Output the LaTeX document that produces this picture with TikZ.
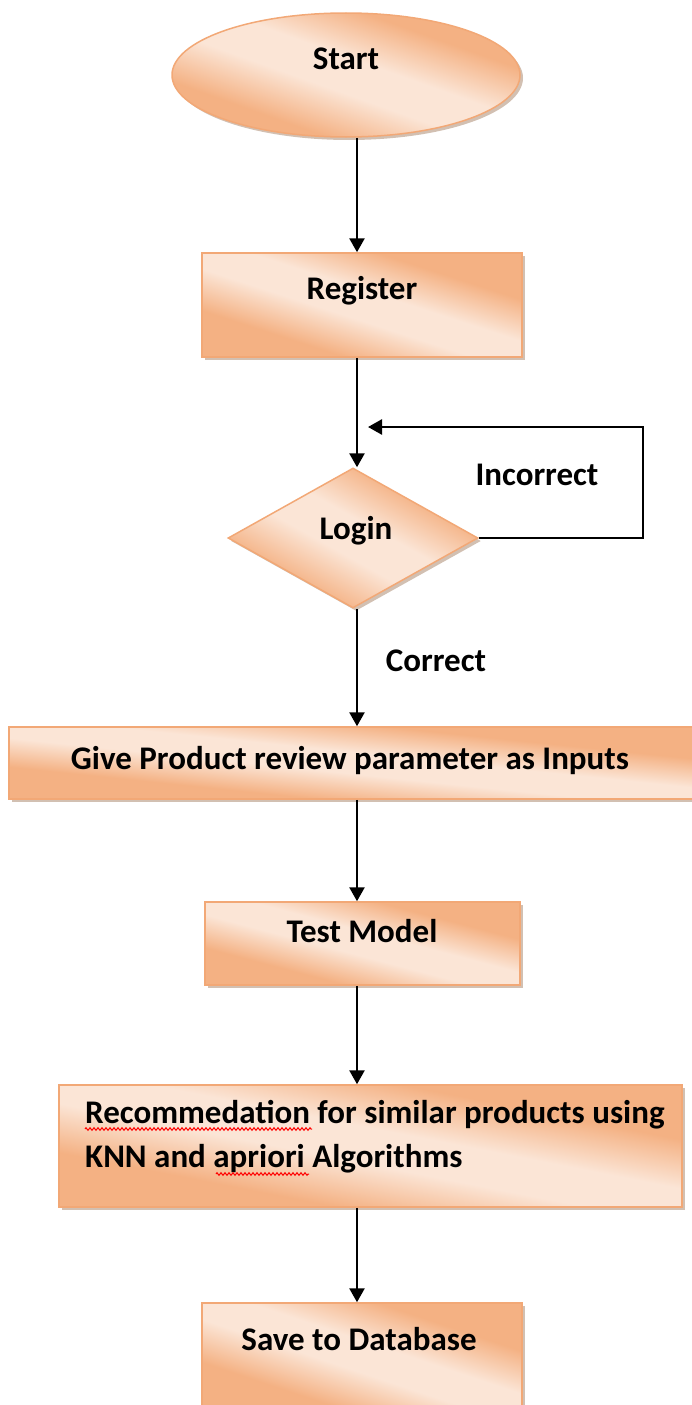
\documentclass[tikz,border=0pt]{standalone}
\usepackage{fontspec}
\setmainfont{Carlito}
\usetikzlibrary{shapes.geometric,arrows.meta,shadows,decorations.pathmorphing}

\definecolor{pdark}{RGB}{244,177,131}
\definecolor{plight}{RGB}{251,229,214}
\definecolor{pedge}{RGB}{242,168,118}
\definecolor{pshadow}{RGB}{205,185,170}

% peach fill: dark at two opposite corners, a broad light band between them
\pgfdeclareverticalshading{peach}{100bp}{%
  color(0bp)=(pdark); color(24bp)=(pdark); color(43bp)=(plight);
  color(57bp)=(plight); color(76bp)=(pdark); color(100bp)=(pdark)}

\begin{document}
\begin{tikzpicture}[x=1pt,y=-1pt,
  peachfill/.style={fill=plight, path picture={%
      \pgfpointdiff{\pgfpointanchor{path picture bounding box}{south west}}%
                   {\pgfpointanchor{path picture bounding box}{north east}}%
      \pgfgetlastxy{\ppw}{\pph}%
      \pgfmathsetmacro{\ppsx}{abs(\ppw)/100*1.5}%
      \pgfmathsetmacro{\ppsy}{abs(\pph)/100*1.5}%
      \pgfscope
        \pgftransformshift{\pgfpointanchor{path picture bounding box}{center}}%
        \pgftransformxscale{\ppsx}%
        \pgftransformyscale{\ppsy}%
        \pgftransformrotate{-45}%
        \pgflowlevelsynccm
        \pgftext{\pgfuseshading{peach}}%
      \endpgfscope}},
  fillshape/.style={draw=pedge, line width=1.5pt, inner sep=0pt, peachfill,
    drop shadow={shadow xshift=3pt, shadow yshift=-3pt, fill=pshadow, opacity=0.9}},
  stepbox/.style={fillshape, rectangle},
  txt/.style={font=\fontsize{33}{44}\selectfont\bfseries, text=black, inner sep=0pt, anchor=base},
  arr/.style={line width=2.6pt, draw=black, -{Triangle[width=15pt,length=14pt]}},
  squig/.style={draw=red, line width=1pt, decorate,
    decoration={zigzag, segment length=4pt, amplitude=1.3pt}}
]
\useasboundingbox (0,0) rectangle (692,1405);

% flow axis for the vertical connectors
\coordinate (axis) at (357,0);
\coordinate (rt) at (643,0);

% shapes
\node[fillshape, ellipse, minimum width=348pt, minimum height=124pt] (start) at (346,75) {};
\node[stepbox, minimum width=320pt, minimum height=104pt] (reg) at (362,305) {};
\node[fillshape, diamond, minimum width=250pt, minimum height=140pt] (login) at (353,538) {};
\node[stepbox, minimum width=691pt, minimum height=72pt] (prod) at (354.5,763) {};
\node[stepbox, minimum width=315pt, minimum height=83pt] (test) at (362.5,943.5) {};
\node[stepbox, minimum width=623pt, minimum height=122pt] (rec) at (370.5,1146) {};
\node[stepbox, minimum width=320pt, minimum height=107pt] (save) at (362,1356.5) {};

% texts
\node[txt] (startT) at (346,70) {Start};
\node[txt] (regT) at (362,299) {Register};
\node[txt] (loginT) at (356,539) {Login};
\node[txt] (prodT) at (350,769) {Give Product review parameter as Inputs};
\node[txt] (testT) at (362,942) {Test Model};
\node[txt, anchor=base west] (recA) at (85,1123) {Recommedation for similar products using};
\node[txt, anchor=base west] (recB) at (85,1167) {KNN and apriori Algorithms};
\node[txt] (saveT) at (359,1350) {Save to Database};
\node[txt] (incT) at (537,485) {Incorrect};
\node[txt] (corT) at (436,671) {Correct};

% spell-check marks
\draw[squig] (85,1129) -- (312,1129);
\draw[squig] (216,1174) -- (309,1174);

% connectors
\coordinate (back) at (368,427);
\draw[arr] (start.south -| axis) -- (reg.north -| axis);
\draw[arr] (reg.south -| axis) -- (login.north -| axis);
\draw[arr] (login.east) -- (login.east -| rt) |- (back);
\draw[arr] (login.south -| axis) -- (prod.north -| axis);
\draw[arr] (prod.south -| axis) -- (test.north -| axis);
\draw[arr] (test.south -| axis) -- (rec.north -| axis);
\draw[arr] (rec.south -| axis) -- (save.north -| axis);
\end{tikzpicture}
\end{document}
